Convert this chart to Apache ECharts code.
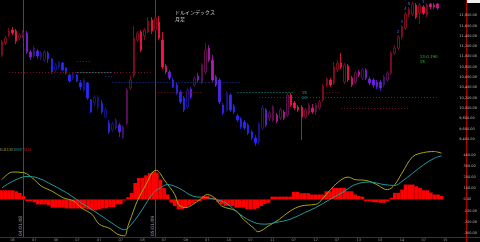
<!DOCTYPE html>
<html><head><meta charset="utf-8">
<script src="https://cdn.jsdelivr.net/npm/echarts@6/dist/echarts.min.js"></script>
<style>html,body{margin:0;padding:0;background:#000}#c{width:480px;height:242px}</style>
</head><body><div id="c"></div>
<script>
// ---- data (monthly bars) ----
const opens = [11029,11262,11417,11514,11495,11359,11398,11456,11088,11010,
11107,10991,10932,11068,10952,10739,10797,10874,10777,10642,
10584,10642,10487,10351,10487,10157,10099,10021,10099,9827,
9711,9575,9614,9672,9440,9711,10390,10642,11320,11476,
11398,11476,11708,11514,11669,11320,10816,10700,10545,10448,
10312,10196,10021,10370,10448,10622,10506,10700,11165,10932,
10603,10545,10060,9963,10254,10041,9847,9789,9730,9672,
9537,9420,9343,9614,9963,9808,9769,9866,9808,9924,
9866,10254,10099,10021,10021,9827,9905,10002,9924,10002,
10157,10448,10545,10487,10739,10874,10506,10816,10584,10506,
10700,10584,10739,10564,10545,10506,10506,10448,10545,10681,
11068,11165,11379,11553,11805,11825,11999,11844,11960,11805,
12018,11999,12018];
const closes = [11282,11359,11495,11456,11301,11417,11476,11088,10991,11165,
11010,11068,11088,10952,10700,10836,10894,10739,10681,10525,
10681,10525,10409,10545,10196,9924,10215,10215,9924,9963,
9537,9692,9769,9537,9633,10351,10545,11359,11456,11126,
11514,11689,11495,11747,11359,10797,10700,10584,10409,10293,
10118,9963,10351,10215,10584,10545,10836,11126,10932,10545,
10448,10118,9905,10293,9963,9924,9769,9633,9614,9517,
9420,9323,9692,10002,9672,9905,10021,9750,9963,9808,
10254,10060,10002,9963,9827,9963,10060,9924,10060,10118,
10428,10564,10448,10797,10874,10797,10836,10545,10448,10681,
10642,10739,10584,10487,10448,10409,10390,10603,10681,11068,
11165,11379,11573,11825,11921,12018,11766,11999,11844,11999,
11960,11960,11941];
const lows = [10991,11223,11379,11417,11243,11320,11359,11049,10932,10971,
10952,10932,10894,10874,10661,10700,10758,10719,10642,10487,
10545,10506,10351,10312,10157,9905,10041,9963,9886,9808,
9498,9537,9575,9440,9401,9672,10351,10584,11282,11088,
11320,11456,11437,11476,11320,10758,10661,10545,10390,10254,
10079,9924,9983,10176,10409,10506,10467,10661,10894,10506,
10409,10079,9866,9924,9924,9886,9730,9595,9575,9478,
9381,9265,9284,9575,9633,9750,9730,9711,9769,9769,
9827,10021,9963,9924,9381,9789,9866,9886,9866,9963,
10118,10409,10409,10448,10700,10758,10467,10506,10409,10467,
10603,10545,10545,10448,10390,10370,10331,10409,10506,10642,
11029,11126,11340,11514,11766,11786,11728,11631,11805,11766,
11921,11921,11902];
const highs = [11320,11398,11553,11573,11534,11456,11514,11495,11126,11204,
11146,11107,11126,11107,10971,10874,10913,10894,10797,10661,
10700,10661,10545,10584,10506,10176,10254,10254,10157,10002,
9769,9730,9808,9711,9672,10390,10622,11592,11495,11514,
11553,11766,11766,11825,11786,11476,10855,10739,10584,10487,
10351,10235,10390,10409,10622,10681,10874,11262,11223,11029,
10642,10584,10099,10331,10293,10079,9886,9827,9769,9711,
9575,9478,9730,10060,10002,9944,10060,9905,10002,9963,
10293,10293,10138,10060,10060,10002,10099,10079,10099,10157,
10467,10603,10584,10894,10932,11068,10874,10855,10622,10719,
10739,10777,10777,10603,10584,10545,10545,10642,10719,11107,
11223,11417,11611,11863,11960,12057,12038,12038,11999,12038,
12038,12038,12038];
const histVals = [82,82,82,82,73,59,30,-15,-15,-25,
-44,-44,-44,-53,-74,-74,-74,-74,-80,-80,
-80,-80,-80,-80,-88,-97,-97,-88,-80,-80,
-68,-68,-44,-44,-10,20,59,147,192,192,
215,235,248,240,177,103,44,-29,-59,-88,
-88,-74,-53,-35,-15,-15,30,30,15,15,
-24,-44,-59,-59,-59,-74,-74,-74,-88,-88,
-88,-80,-59,-40,-30,25,25,25,25,25,
25,68,68,56,56,56,44,44,44,44,
73,73,103,103,103,103,73,73,44,30,
25,-15,-15,-24,-24,-30,-30,-15,15,59,
59,88,133,133,133,118,103,82,82,62,
44,44,30];
// MACD line and signal, read as [bar index, value]
const macdPts = [[0,177],[3,245],[6,240],[9,177],[11,118],[14,73],[17,15],[20,-15],[22,-74],[25,-133],[27,-221],[30,-260],[32,-310],[34,-325],[35,-236],[36,-150],[37,-60],[38,15],[40,133],[41,200],[42,250],[43,260],[44,230],[45,177],[48,44],[49,-44],[51,-74],[53,-44],[55,0],[57,44],[59,15],[61,-59],[65,-103],[67,-177],[70,-260],[71,-289],[74,-236],[77,-177],[80,-103],[83,-59],[87,-44],[88,-29],[90,44],[93,147],[96,200],[98,177],[101,170],[104,133],[106,94],[107,88],[109,133],[111,236],[114,383],[117,419],[120,428],[122,413]];
const signalPts = [[0,103],[3,162],[7,206],[10,192],[13,147],[18,59],[22,-29],[27,-133],[31,-221],[34,-271],[36,-221],[39,-88],[42,59],[44,103],[46,133],[49,103],[53,30],[57,15],[62,-29],[66,-133],[70,-206],[73,-221],[76,-206],[80,-177],[84,-118],[87,-74],[91,0],[95,73],[98,133],[102,156],[106,133],[109,125],[111,162],[114,236],[117,310],[120,369],[122,389]];
const legendVals = ['413.38','388.87','24.51'];
// horizontal dotted levels
const levelFrom  = [2, 43, 90, 95, 21, 29, 31, 72, 21, 66];
const levelTo    = [42, 56, 95, 114, 25, 31, 67, 122, 31, 82];
const levelPrice = [10700, 10312, 10312, 10002, 10913, 10622, 10506, 10215, 10700, 10312];
const levelKind  = ['r','r','r','r','b','b','b','b','t','t'];
const countIdx = [111,112,113,114,117,118];
const countText = ['2','3','4','5','2','3'];
const vGrayIdx = [110,111,112,114,115];
const vRedIdx = [121];
const markerIdx = [6, 43];
const markerText = ['04/01/08','05/01/09'];
const priceMin = 9400, priceMax = 12000, priceStep = 200;
const macdMin = -300, macdMax = 500, macdStep = 100;

const N = 128;
const categories = [];
for (let k = 0; k < N; k++) {
  const m = 9 + k; const y = 2004 + Math.floor(m / 12); const mo = m % 12 + 1;
  categories.push(String(y).slice(2) + '/' + String(mo).padStart(2, '0'));
}

function mix(a, b, t) { return a.map((v, j) => Math.round(v + (b[j] - v) * t)); }
const BLUE = [40, 40, 255], PURP = [150, 30, 210], RED = [255, 20, 70];
function tone(h) {
  const t = Math.max(0, Math.min(1, (h + 70) / 140));
  return t < 0.5 ? mix(BLUE, PURP, t * 2) : mix(PURP, RED, (t - 0.5) * 2);
}
const candleData = opens.map((o, i) => {
  const c = closes[i]; const col = tone(histVals[i]);
  const bright = 'rgb(' + col.join(',') + ')';
  const dim = 'rgb(' + col.map(v => Math.round(v * 0.6)).join(',') + ')';
  const up = c >= o;
  const fill = up ? '#000' : bright, bord = up ? dim : bright;
  return { value: [o, c, lows[i], highs[i]], itemStyle: { color: fill, color0: fill, borderColor: bord, borderColor0: bord } };
});

const kindColor = { r: '#7a1428', b: '#2233a8', t: '#1a9696' };
const mlData = [];
levelFrom.forEach((s, k) => {
  mlData.push([{ coord: [s, levelPrice[k]], lineStyle: { color: kindColor[levelKind[k]], type: [1, 2], width: 1 } }, { coord: [levelTo[k], levelPrice[k]] }]);
});
vGrayIdx.forEach(i => mlData.push([{ coord: [i, lows[i]], lineStyle: { color: '#555', type: 'solid', width: 0.6 } }, { coord: [i, 9330] }]));
vRedIdx.forEach(i => mlData.push([{ coord: [i, lows[i]], lineStyle: { color: '#6a0a0a', type: 'solid', width: 0.8 } }, { coord: [i, 9330] }]));
const lastClose = closes[closes.length - 1];
mlData.push({ yAxis: lastClose, lineStyle: { opacity: 0 }, label: { show: true, position: 'end', distance: 0, backgroundColor: '#c80000', color: '#fff', fontSize: 3.5, padding: [1, 3, 0, 2], formatter: () => lastClose.toLocaleString('en-US', { minimumFractionDigits: 2 }) } });

const mpData = countIdx.map((i, k) => ({ coord: [i, highs[i]], value: countText[k] }));
mpData.push({ coord: [117, 10952], value: '13-0.190\n15', label: { position: 'right', distance: 0, color: '#22c022', fontSize: 4, lineHeight: 5, align: 'left' } });
mpData.push({ coord: [84, 10254], value: '15\n13', label: { position: 'right', distance: 0, color: '#22a8a0', fontSize: 4, lineHeight: 5, align: 'left' } });

const lastHist = histVals[histVals.length - 1];
const fontF = 'DejaVu Sans';

const option = {
  animation: false,
  backgroundColor: '#000',
  textStyle: { fontFamily: fontF },
  grid: [
    { left: 0, right: 14, top: 5, height: 134 },
    { left: 0, right: 14, top: 143.5, height: 90.4 }
  ],
  xAxis: [
    { type: 'category', gridIndex: 0, data: categories, show: false, boundaryGap: true },
    { type: 'category', gridIndex: 1, data: categories, boundaryGap: true, offset: 3,
      axisLine: { show: false }, axisTick: { show: false },
      axisLabel: { color: '#999', fontSize: 3.5, margin: 2,
        interval: (idx) => idx % 6 === 3,
        formatter: v => v.endsWith('/01') ? v.slice(0, 2) : v.slice(3) } }
  ],
  yAxis: [
    { type: 'value', gridIndex: 0, position: 'right', min: priceMin, max: priceMax, interval: priceStep,
      splitLine: { show: false }, axisLine: { show: false }, axisTick: { show: false },
      axisLabel: { color: '#bbb', fontSize: 3.5, margin: 2,
        formatter: v => v === priceMax ? '' : v.toLocaleString('en-US', { minimumFractionDigits: 2 }) } },
    { type: 'value', gridIndex: 1, position: 'right', min: macdMin, max: macdMax, interval: macdStep,
      splitLine: { show: false }, axisLine: { show: false }, axisTick: { show: false },
      axisLabel: { color: '#bbb', fontSize: 3.5, margin: 2,
        formatter: v => v === macdMax ? '' : v.toFixed(2) } }
  ],
  series: [
    { type: 'candlestick', xAxisIndex: 0, yAxisIndex: 0, data: candleData, barWidth: 2, clip: false,
      itemStyle: { borderWidth: 0.8 },
      markLine: { silent: true, symbol: ['none', 'none'], label: { show: false }, data: mlData },
      markPoint: { silent: true, symbol: 'circle', symbolSize: 0, data: mpData,
        label: { show: true, position: 'top', distance: 1, color: '#3a6ee8', fontSize: 4, formatter: p => p.value } } },
    { type: 'bar', xAxisIndex: 1, yAxisIndex: 1, data: histVals, barCategoryGap: '0%', clip: false,
      itemStyle: { color: '#ff0000' },
      markLine: { silent: true, symbol: ['none', 'none'], data: [{ yAxis: lastHist, lineStyle: { opacity: 0 },
        label: { show: true, position: 'end', distance: 0, backgroundColor: '#c80000', color: '#fff', fontSize: 3.5, padding: [1, 6, 0, 2], formatter: () => lastHist.toFixed(2) } }] } },
    { type: 'line', xAxisIndex: 1, yAxisIndex: 1, data: macdPts, smooth: 0.35, symbol: 'none', clip: false,
      lineStyle: { color: '#a8a414', width: 1 } },
    { type: 'line', xAxisIndex: 1, yAxisIndex: 1, data: signalPts, smooth: 0.35, symbol: 'none', clip: false,
      lineStyle: { color: '#1f9a9a', width: 1 } }
  ]
};

const chart = echarts.init(document.getElementById('c'));
chart.setOption(option);

const gfx = [];
markerIdx.forEach((i, k) => {
  const x = Math.round(chart.convertToPixel({ xAxisIndex: 0 }, categories[i])) + 0.5;
  gfx.push({ type: 'line', z: -1, shape: { x1: x, y1: 0, x2: x, y2: 237 }, style: { stroke: '#4a4a4a', lineWidth: 1 } });
  gfx.push({ type: 'text', x: x - 3, y: 236, rotation: Math.PI / 2,
    style: { text: markerText[k], fill: '#8a96b0', fontSize: 4.5, fontFamily: fontF, align: 'left', verticalAlign: 'middle' } });
});
gfx.push({ type: 'line', shape: { x1: 466.5, y1: 0, x2: 466.5, y2: 242 }, style: { stroke: '#b00000', lineWidth: 1 } });
gfx.push({ type: 'line', shape: { x1: 0, y1: 237.5, x2: 480, y2: 237.5 }, style: { stroke: '#b00000', lineWidth: 1 } });
gfx.push({ type: 'rect', shape: { x: 467, y: 0, width: 13, height: 3 }, style: { fill: '#eee' } });
gfx.push({ type: 'text', x: 175, y: 10, style: { text: 'ドルインデックス', fill: '#ccc', fontSize: 5, fontFamily: 'Noto Sans CJK JP' } });
gfx.push({ type: 'text', x: 175, y: 17, style: { text: '月足', fill: '#ccc', fontSize: 5, fontFamily: 'Noto Sans CJK JP' } });
gfx.push({ type: 'text', x: 0, y: 148.5, style: {
  text: '{m|M} {a|' + legendVals[0] + '} {b|' + legendVals[1] + '} {c|' + legendVals[2] + '}',
  fontSize: 3, fontFamily: fontF,
  rich: { m: { fill: '#888', fontSize: 3 }, a: { fill: '#a8a414', fontSize: 3 }, b: { fill: '#1f9a9a', fontSize: 3 }, c: { fill: '#d01010', fontSize: 3 } } } });
chart.setOption({ graphic: { elements: gfx } });
</script>
</body></html>
